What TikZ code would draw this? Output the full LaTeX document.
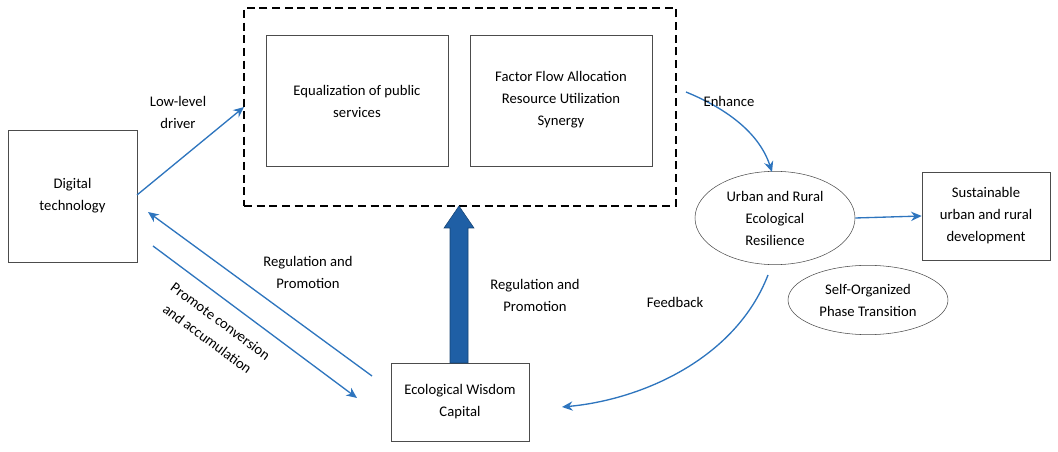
\documentclass[tikz,border=0pt]{standalone}
\usepackage{fontspec}
\setmainfont{Carlito}
\usetikzlibrary{shapes.geometric,arrows.meta}
\definecolor{ab}{RGB}{46,117,190}
\definecolor{bigblue}{RGB}{31,95,165}
\begin{document}
\begin{tikzpicture}[x=0.75pt,y=-0.75pt,font=\fontsize{11}{16.5}\selectfont,
 box/.style={draw=black!70,fill=white,align=center,inner sep=2pt},
 ell/.style={draw=black!70,ellipse,align=center,inner sep=0pt},
 arr/.style={draw=ab,line width=1pt,-{Stealth[length=8pt,width=7pt]}},
 lbl/.style={align=center}]
\useasboundingbox (0,0) rectangle (1058,452);
\node[box,minimum width=97pt,minimum height=99pt] (dt) at (72.5,196) {Digital\\technology};
\node[draw,dash pattern=on 6pt off 3.5pt,line width=0.9pt,minimum width=324pt,minimum height=148.5pt] (dash) at (460,107) {};
\node[box,minimum width=136.5pt,minimum height=98pt] (eq) at (357,100.5) {};
\node[lbl] (eqt) at (357,101) {Equalization of public\\services};
\node[box,minimum width=136.5pt,minimum height=98pt] (ff) at (561,100.5) {};
\node[lbl] (fft) at (561,100) {Factor Flow Allocation\\Resource Utilization\\Synergy};
\node[ell,minimum width=120pt,minimum height=70pt] (ur) at (775,218) {Urban and Rural\\Ecological\\Resilience};
\node[box,minimum width=96pt,minimum height=66pt] (su) at (986,216) {Sustainable\\urban and rural\\development};
\node[ell,minimum width=120pt,minimum height=52pt] (so) at (868,300) {Self-Organized\\Phase Transition};
\node[box,minimum width=103.5pt,minimum height=58.5pt] (ew) at (460,402) {Ecological Wisdom\\Capital};
\coordinate (a1) at (137,195); \coordinate (a2) at (244,107);
\draw[arr] (a1) -- (a2);
\node[lbl] (l1) at (178,112) {Low-level\\driver};
\coordinate (b1) at (372,376); \coordinate (b2) at (148,212);
\draw[arr] (b1) -- (b2);
\node[lbl] (l2) at (308,272) {Regulation and\\Promotion};
\coordinate (c1) at (153,246); \coordinate (c2) at (357,398);
\draw[arr] (c1) -- (c2);
\node[lbl,rotate=-36.5] (l3) at (214,330) {Promote conversion\\and accumulation};
\fill[bigblue,draw=bigblue!70!black] (450,363) -- (450,228) -- (444,228) -- (459,206) -- (474,228) -- (468,228) -- (468,363) -- cycle;
\node[lbl] (l4) at (535,295) {Regulation and\\Promotion};
\coordinate (e1) at (686,92); \coordinate (e2) at (772,172);
\draw[arr] (e1) .. controls (730,110) and (760,135) .. (e2);
\node[lbl] (l5) at (729,101) {Enhance};
\draw[arr] (ur.east) -- (su.west);
\coordinate (f1) at (768,275); \coordinate (f2) at (562,407);
\draw[arr] (f1) .. controls (735,360) and (640,400) .. (f2);
\node[lbl] (l6) at (675,302) {Feedback};
\end{tikzpicture}
\end{document}
